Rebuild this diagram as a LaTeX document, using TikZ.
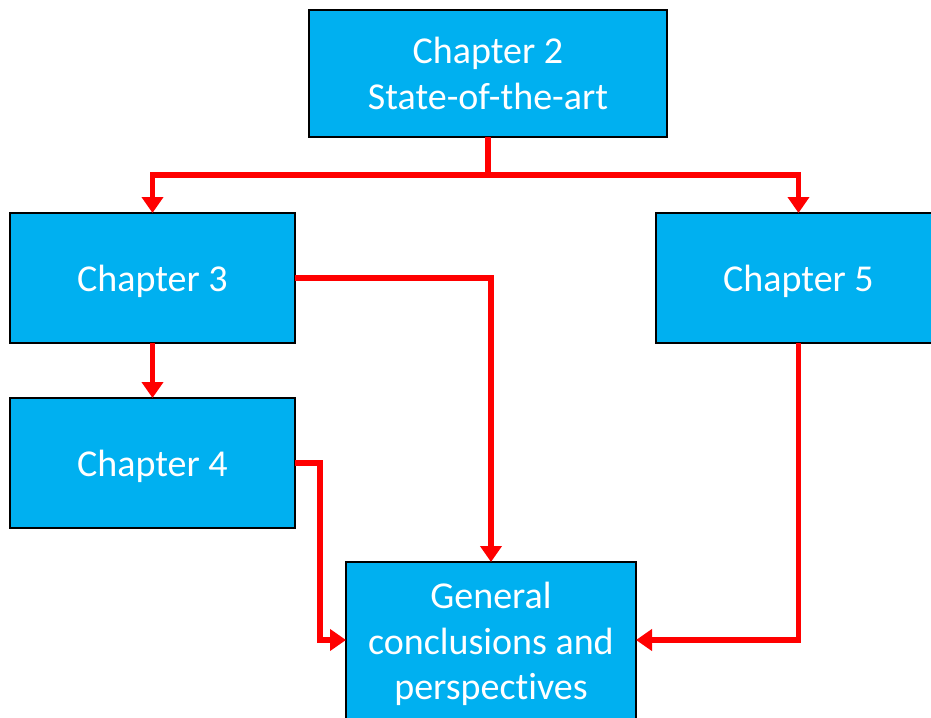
\documentclass[tikz,border=0pt]{standalone}
\usepackage{fontspec}
\setmainfont{Carlito}[Ligatures=CommonOff]
\usetikzlibrary{arrows.meta}
\definecolor{boxblue}{HTML}{00B0F0}
\definecolor{linkred}{HTML}{FF0000}
\begin{document}
\begin{tikzpicture}[x=1pt,y=-1pt,
  chap/.style={draw=black, line width=2.2pt, fill=boxblue, text=white, align=center,
    inner sep=0pt, outer sep=0pt,
    font=\fontsize{38}{45.5}\selectfont},
  oneline/.style={chap, minimum width=285pt, minimum height=130pt, text depth=0pt},
  link/.style={draw=linkred, line width=5.5pt, -{Triangle[length=16pt,width=21pt]}}]
\useasboundingbox (0,0) rectangle (931,717);
\node[chap, minimum width=358pt, minimum height=127pt] (c2) at (488,73.5) {Chapter 2\\State-of-the-art};
\node[oneline] (c3) at (152.5,278) {Chapter 3};
\node[oneline] (c4) at (152.5,463) {Chapter 4};
\node[oneline] (c5) at (798.5,278) {Chapter 5};
\node[chap, minimum width=290pt, minimum height=164pt] (gc) at (491,644) {General\\conclusions and\\perspectives};
\coordinate (split) at (488,175);
\coordinate (gcw) at (346,640);
\coordinate (gce) at (636,640);
\draw[link] (c2.south) -- (split) -| (c3.north);
\draw[link] (split) -| (c5.north);
\draw[link] (c3.south) -- (c4.north);
\draw[link] (c3.east) -| (gc.north);
\draw[link] (c4.east) -- (320,463) |- (gcw);
\draw[link] (c5.south) |- (gce);
\end{tikzpicture}
\end{document}
